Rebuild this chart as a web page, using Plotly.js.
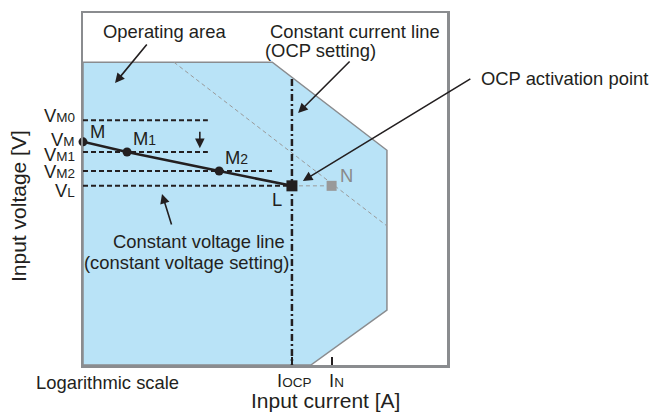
<!DOCTYPE html>
<html>
<head>
<meta charset="utf-8">
<script src="https://cdn.plot.ly/plotly-3.0.1.min.js"></script>
<style>html,body{margin:0;padding:0;background:#fff;}#chart{width:652px;height:412px;}</style>
</head>
<body>
<div id="chart"></div>
<script>
// ---- data (abstract units: current 0..100 on a log-like scale, voltage 0..100) ----
var areaX = [0, 52, 83.5, 83.5, 62.6, 0, 0];
var areaY = [86, 86, 61, 15.6, 0, 0, 86];

var I_OCP = 57.4;
var I_N = 68.3;

var V_M0 = 69.5;
var V_M = 63.4;
var V_M1 = 60.5;
var V_M2 = 55.1;
var V_L = 50.9;

var levelValues = [V_M0, V_M1, V_M2, V_L];
var levelEnds = [34.3, 34.3, 52.2, I_OCP];

var pointNames = ["M", "M1", "M2", "L"];
var pointX = [0, 12.1, 37.4, I_OCP];
var pointY = [V_M, V_M1, V_M2, V_L];

var nPointX = [I_N];
var nPointY = [V_L];

var ratedLineX = [25, 83.5];
var ratedLineY = [86, 39.5];

var ocpLineX = [I_OCP, I_OCP];
var ocpLineY = [81.25, 0];

var yTickVals = [V_M0, V_M, V_M1, V_M2, V_L];
var yTickMain = ["V", "V", "V", "V", "V"];
var yTickSub = ["M0", "M", "M1", "M2", "L"];
var xTickVals = [I_OCP, I_N];
var xTickMain = ["I", "I"];
var xTickSub = ["OCP", "N"];

// ---- traces ----
var ink = '#231f20';
var FONT = 'Liberation Sans, Arial, Helvetica, sans-serif';
var FS = 18.4;
var SUB = "<span style='font-size:13.5px'>";
var traces = [];

traces.push({x: areaX, y: areaY, mode: 'lines', fill: 'toself', fillcolor: '#b9e3f7',
  line: {color: '#8a8c8f', width: 1.5}, hoverinfo: 'skip', cliponaxis: false});

traces.push({x: ratedLineX, y: ratedLineY, mode: 'lines',
  line: {color: '#9a9a9a', width: 1, dash: '4px,3px'}, hoverinfo: 'skip'});

traces.push({x: [I_OCP, I_N], y: [V_L, V_L], mode: 'lines',
  line: {color: '#9a9a9a', width: 1, dash: '4px,3px'}, hoverinfo: 'skip'});

for (var i = 0; i < levelValues.length; i++) {
  traces.push({x: [0, levelEnds[i]], y: [levelValues[i], levelValues[i]], mode: 'lines',
    line: {color: ink, width: 2, dash: '5px,3px'}, hoverinfo: 'skip'});
}

traces.push({x: ocpLineX, y: ocpLineY, mode: 'lines',
  line: {color: ink, width: 2.5, dash: '7px,3px,2px,3px'}, hoverinfo: 'skip'});

traces.push({x: pointX, y: pointY, mode: 'lines',
  line: {color: ink, width: 2.5}, hoverinfo: 'skip'});

traces.push({x: pointX.slice(0, 3), y: pointY.slice(0, 3), mode: 'markers', cliponaxis: false,
  marker: {color: ink, size: 9, symbol: 'circle'}, hoverinfo: 'skip'});

traces.push({x: [pointX[3]], y: [pointY[3]], mode: 'markers', cliponaxis: false,
  marker: {color: ink, size: 11, symbol: 'square'}, hoverinfo: 'skip'});

traces.push({x: nPointX, y: nPointY, mode: 'markers', cliponaxis: false,
  marker: {color: '#999999', size: 10, symbol: 'square'}, hoverinfo: 'skip'});

// ---- annotations ----
var px = function (p) { return (p - 83) / 364; };
var py = function (p) { return (365 - p) / 352; };
var tf = {family: FONT, size: FS, color: ink};
var ann = [];

function txt(t, x, y, xa, extra) {
  var a = {text: t, xref: 'paper', yref: 'paper', x: px(x), y: py(y), xanchor: xa, yanchor: 'middle',
    showarrow: false, font: tf};
  if (extra) for (var k in extra) a[k] = extra[k];
  ann.push(a);
}
txt('Operating area', 164, 32, 'center');
txt('Constant current line', 268, 31, 'left');
txt('(OCP setting)', 263, 50, 'left');
txt('OCP activation point', 479, 78, 'left');
txt('Constant voltage line', 287, 241, 'right');
txt('(constant voltage setting)', 291, 262, 'right');
txt('Logarithmic scale', 34, 382, 'left');
txt('Input current [A]', 325, 400, 'center', {font: {family: FONT, size: 21, color: ink}});
txt('Input voltage [V]', 18, 206, 'center', {textangle: -90, font: {family: FONT, size: 21, color: ink}});

// y-level labels (placed next to the axis, nudged apart where crowded)
var yLabelShift = [4.5, 2, -2, 0, -4.5];
for (var q = 0; q < yTickVals.length; q++) {
  ann.push({x: px(77), y: yTickVals[q], xref: 'paper', yref: 'y', xanchor: 'right', yanchor: 'middle',
    text: yTickMain[q] + SUB + yTickSub[q] + "</span>", showarrow: false, yshift: yLabelShift[q], font: tf});
}
// x labels at IOCP and IN
var xLabelShift = [2, 5];
for (var r = 0; r < xTickVals.length; r++) {
  ann.push({x: xTickVals[r], y: py(380), xref: 'x', yref: 'paper', xanchor: 'center', yanchor: 'middle',
    text: xTickMain[r] + SUB + xTickSub[r] + "</span>", showarrow: false, xshift: xLabelShift[r], font: tf});
}

function arrow(hx, hy, axp, ayp) {
  ann.push({x: hx, y: hy, xref: 'x', yref: 'y', ax: axp, ay: ayp, text: '', showarrow: true,
    arrowhead: 2, arrowsize: 1.2, arrowwidth: 1.6, arrowcolor: ink, standoff: 0});
}
arrow(8.8, 80.1, 33, -40);
arrow(59.1, 71.6, 53, -53);
arrow(60.4, 52.3, 169, -103);
arrow(21.7, 48.6, 10, 32);
arrow(32.1, 61.6, 0, -18);

var labelShift = [[14, 10], [17, 14], [17, 14], [-15, -14]];
for (var j = 0; j < pointNames.length; j++) {
  var nm = pointNames[j];
  var t = nm.length > 1 ? nm[0] + "<span style='font-size:14px'>" + nm.slice(1) + "</span>" : nm;
  ann.push({x: pointX[j], y: pointY[j], xref: 'x', yref: 'y', text: t, showarrow: false,
    xshift: labelShift[j][0], yshift: labelShift[j][1], font: tf});
}
ann.push({x: nPointX[0], y: nPointY[0], xref: 'x', yref: 'y', text: 'N', showarrow: false,
  xshift: 15, yshift: 10, font: {family: FONT, size: FS, color: '#8a8a8a'}});

var layout = {
  width: 652, height: 412,
  margin: {l: 83, r: 205, t: 13, b: 47, pad: 0},
  paper_bgcolor: '#fff', plot_bgcolor: '#fff',
  showlegend: false,
  font: {family: FONT, color: ink},
  xaxis: {range: [0, 100], showgrid: false, zeroline: false, showline: true, mirror: true,
    linecolor: '#8a8c8f', linewidth: 2.5, tickmode: 'array', tickvals: xTickVals,
    ticks: 'inside', ticklen: 8, tickwidth: 2, tickcolor: ink, showticklabels: false, fixedrange: true},
  yaxis: {range: [0, 100], showgrid: false, zeroline: false, showline: true, mirror: true,
    linecolor: '#8a8c8f', linewidth: 2.5, tickmode: 'array', tickvals: yTickVals,
    ticks: '', showticklabels: false, fixedrange: true},
  annotations: ann
};

Plotly.newPlot('chart', traces, layout, {displayModeBar: false, staticPlot: true});
</script>
</body>
</html>
